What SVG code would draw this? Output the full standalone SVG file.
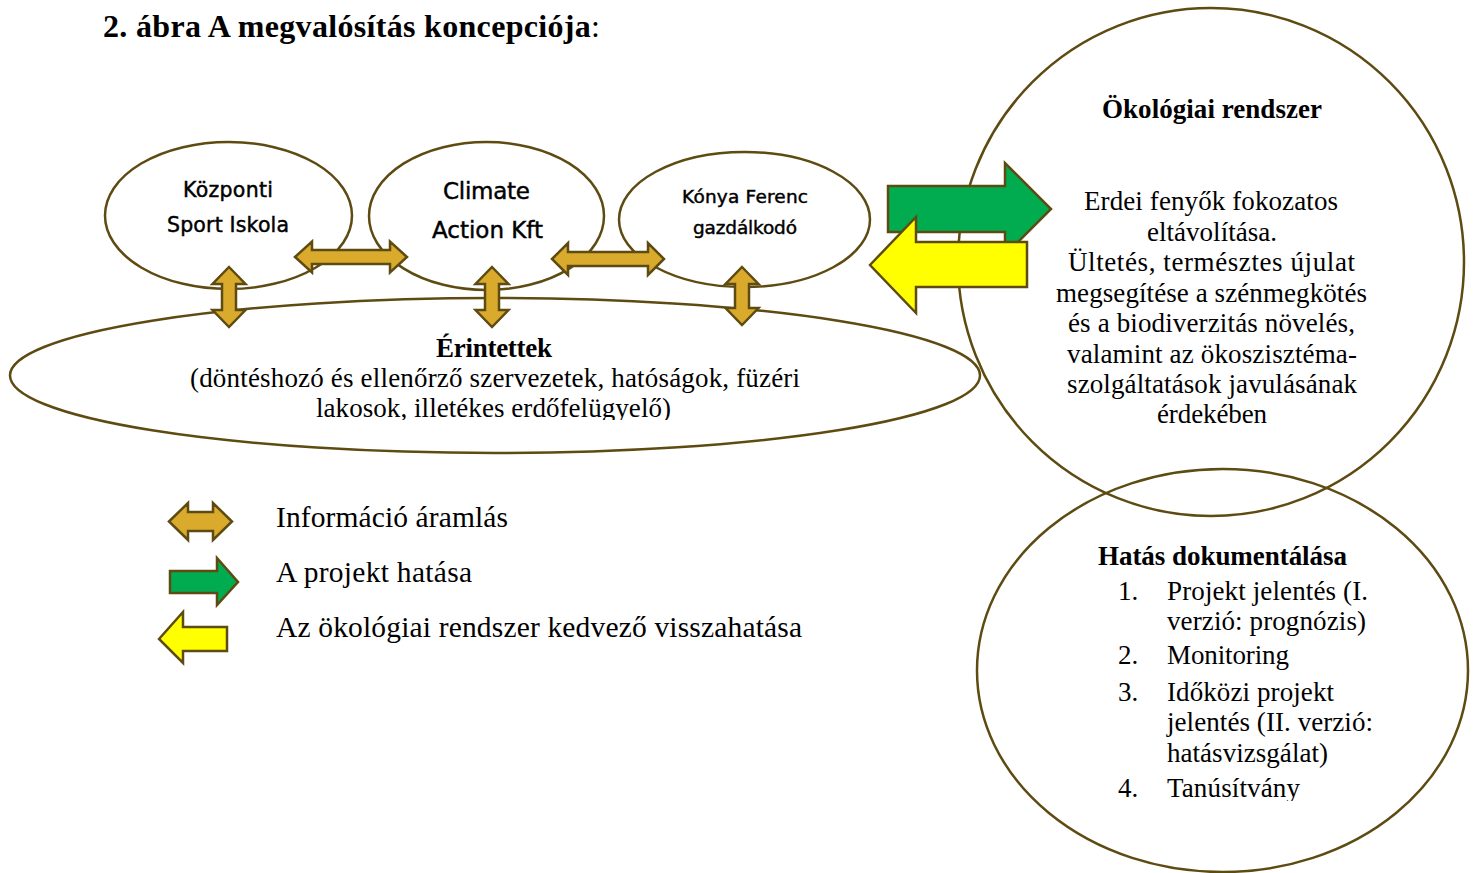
<svg xmlns="http://www.w3.org/2000/svg" width="1476" height="873" viewBox="0 0 1476 873">
<style>
.shape{fill:none;stroke:#5E4B12;stroke-width:2.5}
.node{fill:#fff;stroke:#5E4B12;stroke-width:2.5}
.gold{fill:#DAAA2C;stroke:#5E4B12;stroke-width:2.5;stroke-linejoin:miter}
.green{fill:#00AC4F;stroke:#5E4B12;stroke-width:2.5}
.yellow{fill:#FFFF00;stroke:#5E4B12;stroke-width:2.5}
.sans{font-family:"DejaVu Sans","Liberation Sans",sans-serif;fill:#000;stroke:#000;stroke-width:0.45;text-anchor:middle}
.serif{font-family:"Liberation Serif","Times New Roman",serif;fill:#000;font-size:27px}
.title{font-size:32px}
.leg{font-size:29.5px}
.mid{text-anchor:middle}
.b{font-weight:bold}
</style>
<defs>
<clipPath id="clipE"><rect x="0" y="300" width="990" height="120"/></clipPath>
<clipPath id="clipH"><rect x="980" y="470" width="490" height="331"/></clipPath>
</defs>
<rect width="1476" height="873" fill="#fff"/>

<text class="serif b title" x="103" y="37" textLength="497" lengthAdjust="spacing">2. ábra A megvalósítás koncepciója<tspan font-weight="normal">:</tspan></text>

<g id="okologiai">
<ellipse class="shape" cx="1211" cy="262" rx="253" ry="254"/>
<text class="serif b mid" x="1212" y="118" textLength="220" lengthAdjust="spacing">Ökológiai rendszer</text>
<text class="serif mid" x="1211" y="210" textLength="254" lengthAdjust="spacing">Erdei fenyők fokozatos</text>
<text class="serif mid" x="1212" y="241" textLength="130" lengthAdjust="spacing">eltávolítása.</text>
<text class="serif mid" x="1211.5" y="271" textLength="287" lengthAdjust="spacing">Ültetés, természtes újulat</text>
<text class="serif mid" x="1211.5" y="302" textLength="311" lengthAdjust="spacing">megsegítése a szénmegkötés</text>
<text class="serif mid" x="1211.5" y="332" textLength="287" lengthAdjust="spacing">és a biodiverzitás növelés,</text>
<text class="serif mid" x="1212" y="363" textLength="290" lengthAdjust="spacing">valamint az ökoszisztéma-</text>
<text class="serif mid" x="1212" y="393" textLength="290" lengthAdjust="spacing">szolgáltatások javulásának</text>
<text class="serif mid" x="1212" y="423" textLength="110" lengthAdjust="spacing">érdekében</text>
</g>

<g id="hatas">
<ellipse class="shape" cx="1222.5" cy="670.5" rx="245.5" ry="201.5"/>
<g clip-path="url(#clipH)">
<text class="serif b mid" x="1222.5" y="565" textLength="249" lengthAdjust="spacing">Hatás dokumentálása</text>
<text class="serif" x="1118" y="600">1.</text>
<text class="serif" x="1167" y="600" textLength="201" lengthAdjust="spacing">Projekt jelentés (I.</text>
<text class="serif" x="1167" y="630" textLength="199" lengthAdjust="spacing">verzió: prognózis)</text>
<text class="serif" x="1118" y="664">2.</text>
<text class="serif" x="1167" y="664" textLength="122" lengthAdjust="spacing">Monitoring</text>
<text class="serif" x="1118" y="701">3.</text>
<text class="serif" x="1167" y="701" textLength="167" lengthAdjust="spacing">Időközi projekt</text>
<text class="serif" x="1167" y="731" textLength="206" lengthAdjust="spacing">jelentés (II. verzió:</text>
<text class="serif" x="1167" y="762" textLength="161" lengthAdjust="spacing">hatásvizsgálat)</text>
<text class="serif" x="1118" y="797">4.</text>
<text class="serif" x="1167" y="797" textLength="133" lengthAdjust="spacing">Tanúsítvány</text>
</g>
</g>

<g id="erintettek">
<ellipse class="shape" cx="495" cy="375.5" rx="485" ry="77.5"/>
<g clip-path="url(#clipE)">
<text class="serif b mid" x="494" y="357" textLength="116" lengthAdjust="spacing">Érintettek</text>
<text class="serif mid" x="495" y="387" textLength="610" lengthAdjust="spacing">(döntéshozó és ellenőrző szervezetek, hatóságok, füzéri</text>
<text class="serif mid" x="493.5" y="417" textLength="355" lengthAdjust="spacing">lakosok, illetékes erdőfelügyelő)</text>
</g>
</g>

<g id="kozponti">
<ellipse class="node" cx="228.5" cy="215.5" rx="123.5" ry="73.5"/>
<text class="sans" x="228" y="197" font-size="20.5" textLength="90" lengthAdjust="spacing">Központi</text>
<text class="sans" x="228" y="232" font-size="20.5" textLength="122" lengthAdjust="spacing">Sport Iskola</text>
</g>

<g id="climate">
<ellipse class="node" cx="486.5" cy="216" rx="117.5" ry="74"/>
<text class="sans" x="486.5" y="199" font-size="23" textLength="87" lengthAdjust="spacing">Climate</text>
<text class="sans" x="487.5" y="238" font-size="23" textLength="111" lengthAdjust="spacing">Action Kft</text>
</g>

<g id="konya">
<ellipse class="node" cx="744.5" cy="219.5" rx="125.5" ry="67.5"/>
<text class="sans" x="745" y="203" font-size="18.5" textLength="126" lengthAdjust="spacing">Kónya Ferenc</text>
<text class="sans" x="745" y="234" font-size="18.5" textLength="104" lengthAdjust="spacing">gazdálkodó</text>
</g>

<g id="connectors">
<polygon class="gold" points="295,257 312,241.5 312,250 390,250 390,241.5 407,257 390,272.5 390,264 312,264 312,272.5"/>
<polygon class="gold" points="552,259 568,243 568,252 648,252 648,243 664,259 648,275 648,266 568,266 568,275"/>
<polygon class="gold" points="229,267 245.5,284 236,284 236,310 245.5,310 229,327 212.5,310 222,310 222,284 212.5,284"/>
<polygon class="gold" points="492,267 508.5,284 499,284 499,310 508.5,310 492,327 475.5,310 485,310 485,284 475.5,284"/>
<polygon class="gold" points="742,267 758.5,284 749,284 749,308 758.5,308 742,325 725.5,308 735,308 735,284 725.5,284"/>
<polygon class="green" points="888,186 1005,186 1005,163 1051,209 1005,255 1005,232 888,232"/>
<polygon class="yellow" points="870,265 916,217 916,242 1027,242 1027,287 916,287 916,313"/>
</g>

<g id="legend">
<polygon class="gold" points="169,521.5 188,503 188,512 213,512 213,503 232,521.5 213,540 213,531 188,531 188,540"/>
<polygon class="green" points="170,571 217,571 217,558 238,582 217,605 217,593 170,593"/>
<polygon class="yellow" points="159,639 183,612 183,627 227,627 227,651 183,651 183,663"/>
<text class="serif leg" x="276" y="527" textLength="232" lengthAdjust="spacing">Információ áramlás</text>
<text class="serif leg" x="276" y="582" textLength="196" lengthAdjust="spacing">A projekt hatása</text>
<text class="serif leg" x="276" y="637" textLength="526" lengthAdjust="spacing">Az ökológiai rendszer kedvező visszahatása</text>
</g>
</svg>
